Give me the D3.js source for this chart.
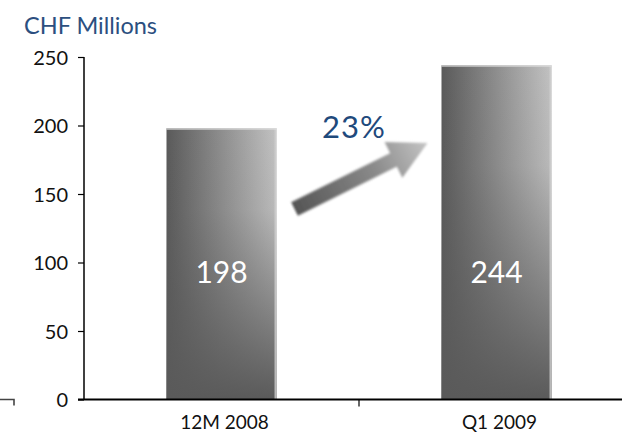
<!DOCTYPE html>
<html><head><meta charset="utf-8">
<script src="https://cdn.jsdelivr.net/npm/d3@7"></script>
<style>body{margin:0;background:#fff}svg{display:block}</style>
</head><body>
<svg id="c" width="622" height="439"></svg>
<script>
const categories = ["12M 2008", "Q1 2009"];
const values = [198, 244];
const yTicks = [0, 50, 100, 150, 200, 250];
const growthLabel = "23%";
const unitLabel = "CHF Millions";

const svg = d3.select("#c");
const font = "Lato, 'Open Sans', sans-serif";
const x = d3.scaleBand().domain(categories).range([84, 634]).paddingInner(0.6).paddingOuter(0.3);
const xb = d3.scaleBand().domain(categories).range([84, 634]);
const y = d3.scaleLinear().domain([0, 250]).range([399.5, 57]);

const defs = svg.append("defs");
const gh = defs.append("linearGradient").attr("id", "gh").attr("x1", 0).attr("x2", 1).attr("y1", 0).attr("y2", 0);
gh.append("stop").attr("offset", 0).attr("stop-color", "#5a5a5a");
gh.append("stop").attr("offset", 1).attr("stop-color", "#c2c2c2");
const gv = defs.append("linearGradient").attr("id", "gv").attr("x1", 0).attr("x2", 0).attr("y1", 0).attr("y2", 1);
gv.append("stop").attr("offset", 0).attr("stop-color", "#5a5a5a").attr("stop-opacity", 0);
gv.append("stop").attr("offset", 0.3).attr("stop-color", "#5a5a5a").attr("stop-opacity", 0.08);
gv.append("stop").attr("offset", 1).attr("stop-color", "#5a5a5a").attr("stop-opacity", 1);
const ga = defs.append("linearGradient").attr("id", "ga").attr("x1", 0).attr("x2", 1).attr("y1", 0).attr("y2", 0);
ga.append("stop").attr("offset", 0).attr("stop-color", "#555");
ga.append("stop").attr("offset", 0.6).attr("stop-color", "#8a8a8a");
ga.append("stop").attr("offset", 1).attr("stop-color", "#c4c4c4");
const fb = defs.append("filter").attr("id", "blur").attr("x", "-10%").attr("y", "-10%").attr("width", "120%").attr("height", "120%");
fb.append("feGaussianBlur").attr("stdDeviation", 0.9);

// title
svg.append("text").attr("x", 24).attr("y", 34).attr("font-family", font).attr("font-size", 23.5)
  .attr("fill", "#2c4f80").text(unitLabel);

// bars
const bars = svg.append("g");
categories.forEach((c, i) => {
  const bx = x(c), bw = x.bandwidth(), by = y(values[i]), bh = y(0) - y(values[i]);
  bars.append("rect").attr("x", bx).attr("y", by).attr("width", bw).attr("height", bh).attr("fill", "url(#gh)");
  bars.append("rect").attr("x", bx).attr("y", by).attr("width", bw).attr("height", bh).attr("fill", "url(#gv)");
  bars.append("rect").attr("x", bx + bw - 2).attr("y", by).attr("width", 2).attr("height", bh).attr("fill", "#d0d0d0").attr("opacity", 0.8);
  bars.append("rect").attr("x", bx).attr("y", by).attr("width", bw).attr("height", 1.5).attr("fill", "#e0e0e0").attr("opacity", 0.8);
  svg.append("text").attr("x", bx + bw / 2).attr("y", 283).attr("text-anchor", "middle")
    .attr("font-family", font).attr("font-size", 30).attr("fill", "#fff").text(values[i]);
});

// y axis
const yAxis = svg.append("g").attr("transform", "translate(84,0)")
  .call(d3.axisLeft(y).tickValues(yTicks).tickSize(6).tickPadding(10));
yAxis.select(".domain").attr("d", `M0,${y(250)}V${y(0)}`).attr("stroke", "#000").attr("stroke-width", 1.5);
yAxis.selectAll(".tick line").attr("stroke", "#000").attr("stroke-width", 1.2);
yAxis.selectAll(".tick text").attr("font-family", font).attr("font-size", 20).attr("fill", "#111").attr("dy", "0.35em");

// x axis
const xAxis = svg.append("g").attr("transform", `translate(0,${y(0)})`)
  .call(d3.axisBottom(xb).tickSize(0).tickPadding(16));
xAxis.select(".domain").attr("d", "M78,0H634").attr("stroke", "#000").attr("stroke-width", 1.8);
xAxis.selectAll(".tick text").attr("font-family", font).attr("font-size", 19).attr("fill", "#111").attr("dx", "3");
xAxis.append("line").attr("x1", xb.step() + 84).attr("x2", xb.step() + 84).attr("y1", 0).attr("y2", 7)
  .attr("stroke", "#000").attr("stroke-width", 1.2);

// stray corner mark
svg.append("path").attr("d", `M0,${y(0)}H14V${y(0) + 6}`).attr("fill", "none").attr("stroke", "#444").attr("stroke-width", 1.6);

// growth arrow between bars
const x0 = x(categories[0]) + x.bandwidth() + 18, y0 = 209;
const x1 = x(categories[1]) - 14, y1 = 143;
const len = Math.hypot(x1 - x0, y1 - y0), ang = Math.atan2(y1 - y0, x1 - x0) * 180 / Math.PI;
const sw = 7.5, hw = 20, hl = 38;
const pts = [[0, -sw], [len - hl, -sw], [len - hl, -hw], [len, 0], [len - hl, hw], [len - hl, sw], [0, sw]];
svg.append("path").attr("d", d3.line()(pts) + "Z")
  .attr("transform", `translate(${x0},${y0}) rotate(${ang})`)
  .attr("fill", "url(#ga)").attr("filter", "url(#blur)");

svg.append("text").attr("x", 354).attr("y", 138).attr("text-anchor", "middle").attr("font-family", font)
  .attr("font-size", 31).attr("fill", "#1f4a7c").attr("letter-spacing", 1).text(growthLabel);
</script>
</body></html>
